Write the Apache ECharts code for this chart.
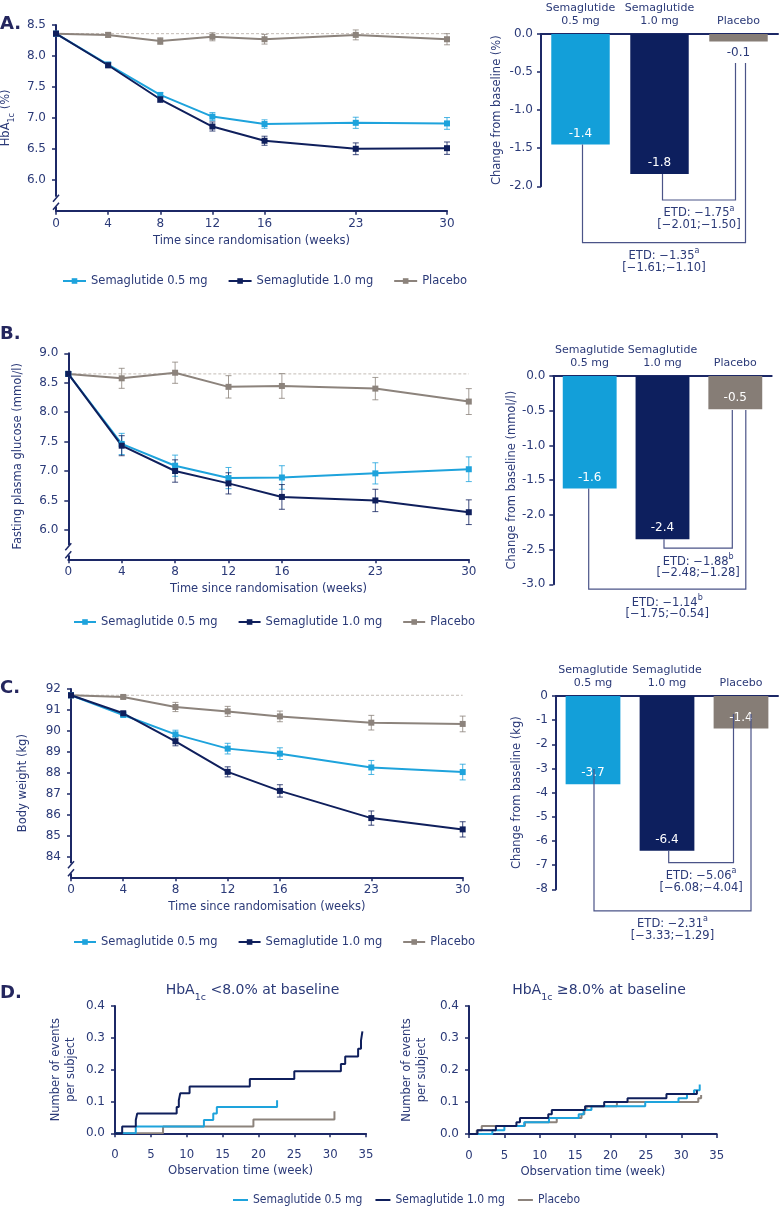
<!DOCTYPE html>
<html><head><meta charset="utf-8">
<script src="https://cdn.jsdelivr.net/npm/echarts@6.0.0/dist/echarts.min.js"></script>
<style>html,body{margin:0;padding:0;background:#fff}#c{width:779px;height:1208px}</style>
</head><body><div id="c"></div>
<script>
// ================= DATA =================
const weeks = [0, 4, 8, 12, 16, 23, 30];
const groupNames = ['Semaglutide 0.5 mg', 'Semaglutide 1.0 mg', 'Placebo'];
const barCategories = ['Semaglutide\n0.5 mg', 'Semaglutide\n1.0 mg', 'Placebo'];

// A. HbA1c (%)
const hba1cTicks = [6.0, 6.5, 7.0, 7.5, 8.0, 8.5];
const hba1cSema05 = [8.36, 7.86, 7.37, 7.02, 6.90, 6.92, 6.91];
const hba1cSema05Err = [0, 0.04, 0.04, 0.065, 0.068, 0.09, 0.095];
const hba1cSema10 = [8.36, 7.85, 7.30, 6.86, 6.63, 6.50, 6.51];
const hba1cSema10Err = [0, 0.04, 0.05, 0.073, 0.073, 0.095, 0.10];
const hba1cPlacebo = [8.36, 8.34, 8.24, 8.31, 8.27, 8.34, 8.27];
const hba1cPlaceboErr = [0, 0.04, 0.054, 0.065, 0.078, 0.08, 0.09];
const hba1cChange = [-1.45, -1.84, -0.10];
const hba1cChangeLabels = ['-1.4', '-1.8', '-0.1'];
const hba1cEtdPairs = [[1, 2], [0, 2]];
const hba1cEtdText = ['ETD: −1.75', 'ETD: −1.35'];
const hba1cEtdSup = ['a', 'a'];
const hba1cEtdCi = ['[−2.01;−1.50]', '[−1.61;−1.10]'];

// B. Fasting plasma glucose (mmol/l)
const fpgTicks = [6.0, 6.5, 7.0, 7.5, 8.0, 8.5, 9.0];
const fpgSema05 = [8.65, 7.46, 7.09, 6.88, 6.89, 6.96, 7.03];
const fpgSema05Err = [0, 0.18, 0.18, 0.18, 0.20, 0.18, 0.21];
const fpgSema10 = [8.65, 7.43, 7.00, 6.79, 6.56, 6.50, 6.30];
const fpgSema10Err = [0, 0.17, 0.19, 0.18, 0.21, 0.19, 0.21];
const fpgPlacebo = [8.65, 8.575, 8.67, 8.43, 8.445, 8.40, 8.18];
const fpgPlaceboErr = [0, 0.17, 0.18, 0.19, 0.21, 0.19, 0.22];
const fpgChange = [-1.62, -2.35, -0.48];
const fpgChangeLabels = ['-1.6', '-2.4', '-0.5'];
const fpgEtdPairs = [[1, 2], [0, 2]];
const fpgEtdText = ['ETD: −1.88', 'ETD: −1.14'];
const fpgEtdSup = ['b', 'b'];
const fpgEtdCi = ['[−2.48;−1.28]', '[−1.75;−0.54]'];

// C. Body weight (kg)
const bwTicks = [84, 85, 86, 87, 88, 89, 90, 91, 92];
const bwSema05 = [91.70, 90.76, 89.83, 89.15, 88.91, 88.25, 88.03];
const bwSema05Err = [0, 0.06, 0.20, 0.255, 0.28, 0.335, 0.375];
const bwSema10 = [91.70, 90.84, 89.50, 88.04, 87.13, 85.83, 85.29];
const bwSema10Err = [0, 0.06, 0.215, 0.24, 0.295, 0.34, 0.365];
const bwPlacebo = [91.70, 91.62, 91.14, 90.93, 90.69, 90.39, 90.33];
const bwPlaceboErr = [0, 0.06, 0.22, 0.24, 0.255, 0.35, 0.375];
const bwChange = [-3.65, -6.40, -1.34];
const bwChangeLabels = ['-3.7', '-6.4', '-1.4'];
const bwEtdPairs = [[1, 2], [0, 2]];
const bwEtdText = ['ETD: −5.06', 'ETD: −2.31'];
const bwEtdSup = ['a', 'a'];
const bwEtdCi = ['[−6.08;−4.04]', '[−3.33;−1.29]'];

// D. Hypoglycaemia events per subject (week, cumulative events)
const hypoLowSema05 = [[0,0],[2.9,0.021],[12.4,0.042],[13.7,0.062],[14.2,0.083],[22.6,0.104]];
const hypoLowSema10 = [[0,0],[1.0,0.021],[2.9,0.042],[3.1,0.062],[8.6,0.083],[8.9,0.104],[9.1,0.126],[10.4,0.147],[18.8,0.171],[25.0,0.195],[31.5,0.218],[32.1,0.241],[33.9,0.266],[34.3,0.291],[34.5,0.32]];
const hypoLowPlacebo = [[0,0],[6.7,0.021],[19.3,0.043],[30.6,0.069]];
const hypoHighSema05 = [[0,0],[3.3,0.012],[5.0,0.025],[7.8,0.037],[11.3,0.05],[15.5,0.062],[16.2,0.075],[17.3,0.087],[24.9,0.1],[29.6,0.112],[30.8,0.125],[31.8,0.137],[32.6,0.155]];
const hypoHighSema10 = [[0,0],[1.2,0.012],[3.8,0.025],[6.7,0.037],[7.2,0.05],[11.2,0.062],[11.7,0.075],[16.4,0.087],[19.1,0.1],[22.4,0.112],[27.9,0.125],[32.2,0.137]];
const hypoHighPlacebo = [[0,0],[1.1,0.012],[1.8,0.025],[7.9,0.037],[12.4,0.05],[15.9,0.062],[16.3,0.075],[16.6,0.087],[20.9,0.1],[32.4,0.112],[32.8,0.122]];

// ================= STYLE =================
const FONT = "'DejaVu Sans', Verdana, sans-serif";
const FONTC = "'DejaVu Sans Condensed', 'Liberation Sans Narrow', 'DejaVu Sans', sans-serif";
const TXT = '#2b3a78';
const AXIS = '#1c2866';
const LINE_COLS = ['#1ea3dc', '#0f1f5c', '#8c837c'];
const BAR_COLS = ['#139fd9', '#0d1f5e', '#867d76'];
const BRK = '#4b5488';

const chart = echarts.init(document.getElementById('c'), null, { renderer: 'canvas' });

const grids = [
  { left: 56, top: 25, width: 391, height: 185.7 },      // 0 A line
  { left: 541, top: 34, width: 237, height: 152.3 },     // 1 A bar
  { left: 68.3, top: 353.3, width: 400.5, height: 206 }, // 2 B line
  { left: 553.3, top: 376, width: 218.4, height: 208.3 },// 3 B bar
  { left: 71, top: 689, width: 391.7, height: 188.3 },   // 4 C line
  { left: 556, top: 696, width: 222, height: 193.3 },    // 5 C bar
  { left: 115, top: 1006, width: 251, height: 127.3 },   // 6 D left
  { left: 469, top: 1006, width: 247.7, height: 128 }    // 7 D right
].map(g => Object.assign({ containLabel: false, outerBoundsMode: 'none' }, g));

const xAxes = [], yAxes = [], series = [];
const axisLineStyle = { show: true, onZero: false, lineStyle: { color: AXIS, width: 2 } };
const labelStyle = { color: TXT, fontSize: 12, fontFamily: FONT };
const nameStyle = { color: TXT, fontSize: 11.5, fontFamily: FONT };

function errorSeries(g, means, errs, color) {
  return {
    type: 'custom', xAxisIndex: g, yAxisIndex: g, z: 2, silent: true,
    data: weeks.map((w, k) => [w, means[k] - errs[k], means[k] + errs[k]]).filter((d, k) => errs[k] > 0),
    encode: { x: 0, y: [1, 2] },
    renderItem: (params, api) => {
      const x = api.value(0);
      const lo = api.coord([x, api.value(1)]);
      const hi = api.coord([x, api.value(2)]);
      const w = 3, st = { stroke: color, lineWidth: 1, opacity: 0.8 };
      return { type: 'group', children: [
        { type: 'line', shape: { x1: lo[0], y1: lo[1], x2: hi[0], y2: hi[1] }, style: st },
        { type: 'line', shape: { x1: lo[0] - w, y1: lo[1], x2: lo[0] + w, y2: lo[1] }, style: st },
        { type: 'line', shape: { x1: hi[0] - w, y1: hi[1], x2: hi[0] + w, y2: hi[1] }, style: st }
      ] };
    }
  };
}

function linePanel(g, yMin, yMax, ticks, yName, nameGap, means, errs, fmt) {
  xAxes.push({
    gridIndex: g, type: 'value', min: 0, max: 30,
    name: 'Time since randomisation (weeks)', nameLocation: 'middle', nameGap: 24, nameTextStyle: nameStyle,
    axisLine: axisLineStyle,
    axisTick: { show: true, length: 4, customValues: weeks, lineStyle: { color: AXIS, width: 1.5 } },
    axisLabel: Object.assign({ customValues: weeks, margin: 7 }, labelStyle),
    splitLine: { show: false }
  });
  yAxes.push({
    gridIndex: g, type: 'value', min: yMin, max: yMax,
    name: yName.text, nameLocation: 'middle', nameRotate: 90, nameGap: nameGap,
    nameTextStyle: Object.assign({ rich: yName.rich || {} }, nameStyle),
    axisLine: axisLineStyle,
    axisTick: { show: true, length: 4, customValues: ticks, lineStyle: { color: AXIS, width: 1.5 } },
    axisLabel: Object.assign({ customValues: ticks, margin: 10, formatter: fmt }, labelStyle),
    splitLine: { show: false }
  });
  const base = means[2][0];
  series.push({
    type: 'line', xAxisIndex: g, yAxisIndex: g, data: [[0, base], [30, base]], symbol: 'none', silent: true,
    lineStyle: { type: [3, 2], color: '#c4bcb6', width: 1 }, z: 1
  });
  [2, 0, 1].forEach(i => {
    series.push(errorSeries(g, means[i], errs[i], LINE_COLS[i]));
  });
  [2, 0, 1].forEach(i => {
    series.push({
      type: 'line', name: groupNames[i], xAxisIndex: g, yAxisIndex: g,
      data: weeks.map((w, k) => [w, means[i][k]]),
      symbol: 'rect', symbolSize: 6, showSymbol: true,
      lineStyle: { width: 2, color: LINE_COLS[i] }, itemStyle: { color: LINE_COLS[i] }, z: 3
    });
  });
}

function barPanel(g, yMin, yInt, yName, nameGap, values, labels, fmt) {
  xAxes.push({
    gridIndex: g, type: 'category', data: barCategories, position: 'top',
    axisLine: { show: true, lineStyle: { color: AXIS, width: 2 } },
    axisTick: { show: false },
    axisLabel: { color: TXT, fontSize: 11, fontFamily: FONT, lineHeight: 13, margin: 6, interval: 0 },
    splitLine: { show: false }
  });
  yAxes.push({
    gridIndex: g, type: 'value', min: yMin, max: 0, interval: yInt,
    name: yName, nameLocation: 'middle', nameRotate: 90, nameGap: nameGap, nameTextStyle: nameStyle,
    axisLine: { show: true, lineStyle: { color: AXIS, width: 2 } },
    axisTick: { show: true, length: 4, lineStyle: { color: AXIS, width: 1.5 } },
    axisLabel: Object.assign({ margin: 8, formatter: fmt }, labelStyle),
    splitLine: { show: false }
  });
  const range = -yMin;
  series.push({
    type: 'bar', xAxisIndex: g, yAxisIndex: g, barWidth: '74%', z: 2,
    data: values.map((v, i) => {
      const inside = Math.abs(v) / range > 0.1;
      return {
        value: v, itemStyle: { color: BAR_COLS[i] },
        label: {
          show: true, formatter: labels[i], position: inside ? 'insideBottom' : 'bottom', distance: 5,
          color: inside ? '#ffffff' : TXT, fontSize: 12, fontFamily: FONT
        }
      };
    })
  });
}

function hypoPanel(g, dataSets, nameGap) {
  xAxes.push({
    gridIndex: g, type: 'value', min: 0, max: 35, interval: 5,
    name: 'Observation time (week)', nameLocation: 'middle', nameGap: 31,
    nameTextStyle: { color: TXT, fontSize: 13, fontFamily: FONTC },
    axisLine: axisLineStyle,
    axisTick: { show: true, length: 4, lineStyle: { color: AXIS, width: 1.5 } },
    axisLabel: { color: TXT, fontSize: 13, fontFamily: FONTC, margin: 15 },
    splitLine: { show: false }
  });
  yAxes.push({
    gridIndex: g, type: 'value', min: 0, max: 0.4, interval: 0.1,
    name: 'Number of events\nper subject', nameLocation: 'middle', nameRotate: 90, nameGap: nameGap,
    nameTextStyle: Object.assign({ lineHeight: 15 }, nameStyle),
    axisLine: axisLineStyle,
    axisTick: { show: true, length: 4, lineStyle: { color: AXIS, width: 1.5 } },
    axisLabel: Object.assign({ margin: 10, formatter: v => v.toFixed(1) }, labelStyle),
    splitLine: { show: false }
  });
  [2, 0, 1].forEach(i => {
    series.push({
      type: 'line', name: groupNames[i], xAxisIndex: g, yAxisIndex: g, data: dataSets[i],
      step: 'end', symbol: 'none', showSymbol: false,
      lineStyle: { width: 2, color: LINE_COLS[i] }, itemStyle: { color: LINE_COLS[i] }, z: 3
    });
  });
}

const f1 = v => v.toFixed(1);
linePanel(0, 5.5, 8.5, hba1cTicks,
  { text: '{a|HbA}{s|1c}{a| (%)}', rich: { a: { fontSize: 11.5, fontFamily: FONT, color: TXT, lineHeight: 16, verticalAlign: 'top' }, s: { fontSize: 8, fontFamily: FONT, color: TXT, lineHeight: 8, verticalAlign: 'bottom' } } },
  39, [hba1cSema05, hba1cSema10, hba1cPlacebo], [hba1cSema05Err, hba1cSema10Err, hba1cPlaceboErr], f1);
barPanel(1, -2.0, 0.5, 'Change from baseline (%)', 38, hba1cChange, hba1cChangeLabels, f1);
linePanel(2, 5.5, 9.0, fpgTicks, { text: 'Fasting plasma glucose (mmol/l)' }, 44,
  [fpgSema05, fpgSema10, fpgPlacebo], [fpgSema05Err, fpgSema10Err, fpgPlaceboErr], f1);
barPanel(3, -3.0, 0.5, 'Change from baseline (mmol/l)', 29, fpgChange, fpgChangeLabels, f1);
linePanel(4, 83, 92, bwTicks, { text: 'Body weight (kg)' }, 42,
  [bwSema05, bwSema10, bwPlacebo], [bwSema05Err, bwSema10Err, bwPlaceboErr], v => String(v));
barPanel(5, -8, 1, 'Change from baseline (kg)', 33, bwChange, bwChangeLabels, v => String(v));
hypoPanel(6, [hypoLowSema05, hypoLowSema10, hypoLowPlacebo], 36);
hypoPanel(7, [hypoHighSema05, hypoHighSema10, hypoHighPlacebo], 39);

const legendText = { color: TXT, fontSize: 11.5, fontFamily: FONT };
const legends = [
  { left: 57, top: 270, itemWidth: 23, itemHeight: 7, itemGap: 20, data: groupNames, textStyle: legendText, selectedMode: false },
  { left: 68, top: 611, itemWidth: 22, itemHeight: 7, itemGap: 20, data: groupNames, textStyle: legendText, selectedMode: false },
  { left: 68, top: 931, itemWidth: 22, itemHeight: 7, itemGap: 20, data: groupNames, textStyle: legendText, selectedMode: false },
  { left: 228, top: 1189, icon: 'rect', itemWidth: 15, itemHeight: 2, itemGap: 13, data: groupNames,
    textStyle: { color: TXT, fontSize: 12, fontFamily: FONTC }, selectedMode: false }
];

chart.setOption({
  animation: false,
  backgroundColor: '#ffffff',
  grid: grids, xAxis: xAxes, yAxis: yAxes, series: series, legend: legends
});

// ================= ANNOTATIONS =================
const gfx = [];
[['A.', 24], ['B.', 334], ['C.', 688], ['D.', 993]].forEach(([t, y]) => {
  gfx.push({ type: 'text', x: 0, y: y, z: 100, style: { text: t, fill: '#24265e', fontSize: 18, fontWeight: 'bold', fontFamily: FONT, align: 'left', verticalAlign: 'middle' } });
});
const titleRich = {
  a: { fontSize: 14, fontFamily: FONT, fill: TXT, color: TXT, lineHeight: 20, verticalAlign: 'top' },
  s: { fontSize: 9.5, fontFamily: FONT, fill: TXT, color: TXT, lineHeight: 10, verticalAlign: 'bottom' }
};
gfx.push({ type: 'text', x: 252.5, y: 993, z: 100, style: { text: '{a|HbA}{s|1c}{a| <8.0% at baseline}', rich: titleRich, fill: TXT, align: 'center', verticalAlign: 'middle' } });
gfx.push({ type: 'text', x: 599, y: 993, z: 100, style: { text: '{a|HbA}{s|1c}{a| ≥8.0% at baseline}', rich: titleRich, fill: TXT, align: 'center', verticalAlign: 'middle' } });

// axis breaks on the line-chart y axes
[[0, 5.5], [2, 5.5], [4, 83]].forEach(([g, ymin]) => {
  const p = chart.convertToPixel({ gridIndex: g }, [0, ymin]);
  const ax = p[0], by = p[1];
  gfx.push({ type: 'rect', z: 90, shape: { x: ax - 3, y: by - 14, width: 6, height: 10 }, style: { fill: '#ffffff' } });
  gfx.push({ type: 'line', z: 91, shape: { x1: ax - 3, y1: by - 9, x2: ax + 3, y2: by - 16 }, style: { stroke: AXIS, lineWidth: 1.5 } });
  gfx.push({ type: 'line', z: 91, shape: { x1: ax - 3, y1: by - 1, x2: ax + 3, y2: by - 8 }, style: { stroke: AXIS, lineWidth: 1.5 } });
});

// ETD brackets (layout in value units of each bar panel)
const bracketLayout = {
  1: [{ level: -2.18, top: -0.38, dxL: 3, dxR: -3 }, { level: -2.74, top: -0.38, dxL: 2, dxR: 7 }],
  3: [{ level: -2.48, top: -0.49, dxL: 1.5, dxR: -3 }, { level: -3.07, top: -0.49, dxL: -1, dxR: 10.5 }],
  5: [{ level: -6.90, top: -0.75, dxL: 1.7, dxR: -7.5 }, { level: -8.89, top: -0.75, dxL: 1, dxR: 10, start: -3.02 }]
};
const etdRich = {
  t: { fontSize: 11.5, fontFamily: FONT, fill: TXT, color: TXT, lineHeight: 15, verticalAlign: 'bottom' },
  s: { fontSize: 8, fontFamily: FONT, fill: TXT, color: TXT, lineHeight: 8, verticalAlign: 'top' }
};
function brackets(g, values, pairs, texts, sups, cis) {
  pairs.forEach((pr, k) => {
    const L = bracketLayout[g][k];
    const startV = L.start != null ? L.start : values[pr[0]];
    const pL = chart.convertToPixel({ gridIndex: g }, [pr[0], startV]);
    const pR = chart.convertToPixel({ gridIndex: g }, [pr[1], L.top]);
    const yLev = chart.convertToPixel({ gridIndex: g }, [pr[0], L.level])[1];
    const xL = pL[0] + L.dxL, xR = pR[0] + L.dxR;
    gfx.push({ type: 'polyline', z: 80, shape: { points: [[xL, pL[1]], [xL, yLev], [xR, yLev], [xR, pR[1]]] }, style: { stroke: BRK, lineWidth: 1.2, fill: null } });
    const cx = (xL + xR) / 2;
    gfx.push({ type: 'text', z: 100, x: cx, y: yLev + 12, style: { text: '{t|' + texts[k] + '}{s|' + sups[k] + '}', rich: etdRich, fill: TXT, align: 'center', verticalAlign: 'middle' } });
    gfx.push({ type: 'text', z: 100, x: cx, y: yLev + 25, style: { text: cis[k], fill: TXT, fontSize: 11.5, fontFamily: FONT, align: 'center', verticalAlign: 'middle' } });
  });
}
brackets(1, hba1cChange, hba1cEtdPairs, hba1cEtdText, hba1cEtdSup, hba1cEtdCi);
brackets(3, fpgChange, fpgEtdPairs, fpgEtdText, fpgEtdSup, fpgEtdCi);
brackets(5, bwChange, bwEtdPairs, bwEtdText, bwEtdSup, bwEtdCi);

chart.setOption({ graphic: gfx });
</script></body></html>
